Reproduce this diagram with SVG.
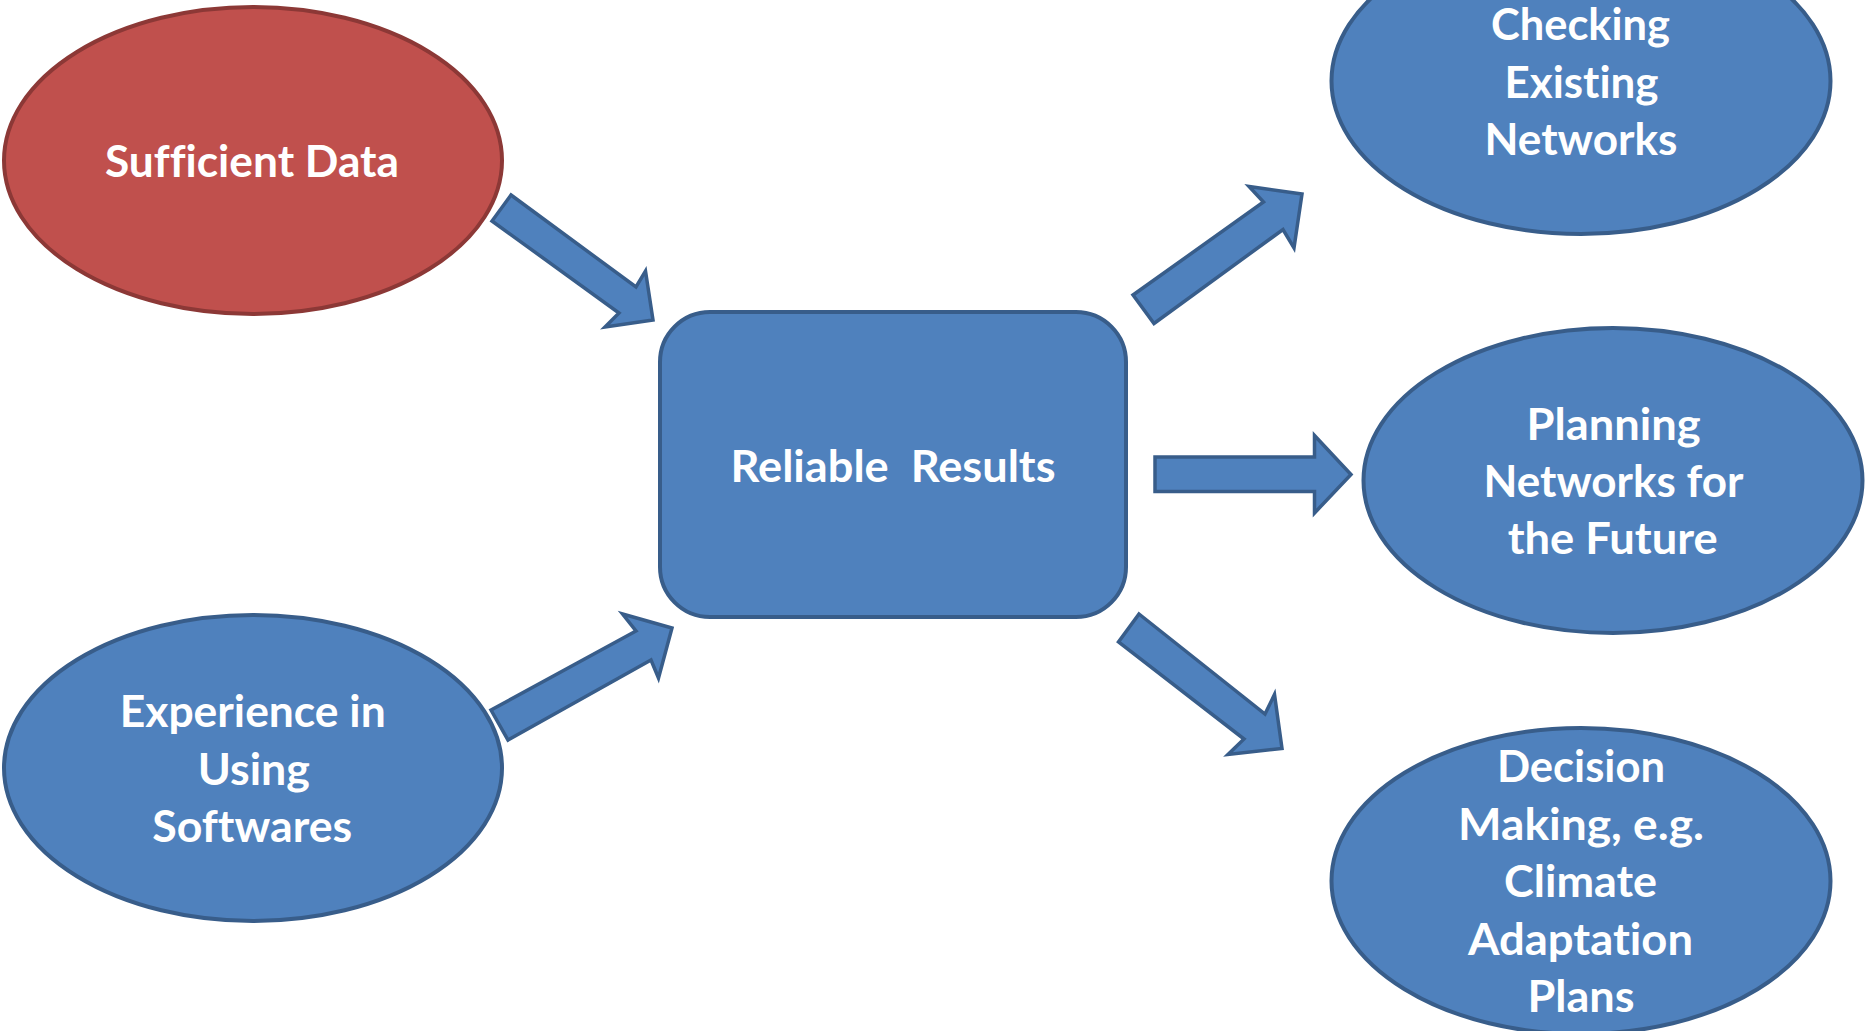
<svg xmlns="http://www.w3.org/2000/svg" width="1865" height="1031" viewBox="0 0 1865 1031">
  <style>
    .blue { fill: #4F81BD; stroke: #385D8A; stroke-width: 4; }
    .red { fill: #C0504D; stroke: #8C3836; stroke-width: 4; }
    .arrow { fill: #4F81BD; stroke: #385D8A; stroke-width: 3.5; stroke-linejoin: miter; }
    .label { font-family: Lato, "Open Sans", "Liberation Sans", sans-serif; font-weight: 700; font-size: 43px; fill: #FFFFFF; text-anchor: middle; font-variant-ligatures: none; }
  </style>
  <rect width="1865" height="1031" fill="#FFFFFF"/>

  <!-- Inputs -->
  <g id="sufficient-data">
    <ellipse class="red" cx="253" cy="160.5" rx="249" ry="153.5"/>
    <text class="label" x="252" y="177" textLength="294" lengthAdjust="spacingAndGlyphs">Sufficient Data</text>
  </g>

  <g id="experience">
    <ellipse class="blue" cx="253" cy="768" rx="249" ry="153"/>
    <text class="label" x="252.7" y="727" textLength="266" lengthAdjust="spacingAndGlyphs">Experience in</text>
    <text class="label" x="253.8" y="784.5" textLength="112" lengthAdjust="spacingAndGlyphs">Using</text>
    <text class="label" x="252.2" y="842" textLength="200" lengthAdjust="spacingAndGlyphs">Softwares</text>
  </g>

  <!-- Centre -->
  <g id="reliable-results">
    <rect class="blue" x="660" y="312" width="466" height="305" rx="50" ry="50"/>
    <text class="label" x="893" y="482" xml:space="preserve" textLength="325" lengthAdjust="spacingAndGlyphs">Reliable  Results</text>
  </g>

  <!-- Outcomes -->
  <g id="checking-networks">
    <ellipse class="blue" cx="1581" cy="81" rx="249.5" ry="153"/>
    <text class="label" x="1580.5" y="40" textLength="179" lengthAdjust="spacingAndGlyphs">Checking</text>
    <text class="label" x="1581.5" y="97.5" textLength="154" lengthAdjust="spacingAndGlyphs">Existing</text>
    <text class="label" x="1581" y="155" textLength="193" lengthAdjust="spacingAndGlyphs">Networks</text>
  </g>

  <g id="planning-networks">
    <ellipse class="blue" cx="1613" cy="480.5" rx="249.5" ry="152.5"/>
    <text class="label" x="1613.6" y="440" textLength="174" lengthAdjust="spacingAndGlyphs">Planning</text>
    <text class="label" x="1613.5" y="497" textLength="260" lengthAdjust="spacingAndGlyphs">Networks for</text>
    <text class="label" x="1612.7" y="554" textLength="210" lengthAdjust="spacingAndGlyphs">the Future</text>
  </g>

  <g id="decision-making">
    <ellipse class="blue" cx="1581" cy="881" rx="249.5" ry="153"/>
    <text class="label" x="1581" y="782" textLength="168" lengthAdjust="spacingAndGlyphs">Decision</text>
    <text class="label" x="1581" y="839.5" textLength="246" lengthAdjust="spacingAndGlyphs">Making, e.g.</text>
    <text class="label" x="1580.6" y="897" textLength="153" lengthAdjust="spacingAndGlyphs">Climate</text>
    <text class="label" x="1580.5" y="954.5" textLength="225" lengthAdjust="spacingAndGlyphs">Adaptation</text>
    <text class="label" x="1581" y="1012" textLength="107" lengthAdjust="spacingAndGlyphs">Plans</text>
  </g>

  <!-- Block arrows -->
  <g id="connectors">
    <polygon class="arrow" points="511,195 636,287 645.5,271 653,320 605,327 619,313 492,221"/>
    <polygon class="arrow" points="491,710 636,631 622.5,614 672,628 658.5,678 651,660 508,740"/>
    <polygon class="arrow" points="1133,295 1263.5,202 1249,186.5 1302,194 1294,248 1283,229.5 1154,323.5"/>
    <polygon class="arrow" points="1155,457 1314.5,457 1314.5,435.5 1351,474.5 1314.5,513 1314.5,491.5 1155,491.5"/>
    <polygon class="arrow" points="1139,614 1265,714 1274.5,694.5 1282,748.5 1228,754.5 1244,739 1118.5,642"/>
  </g>
</svg>
